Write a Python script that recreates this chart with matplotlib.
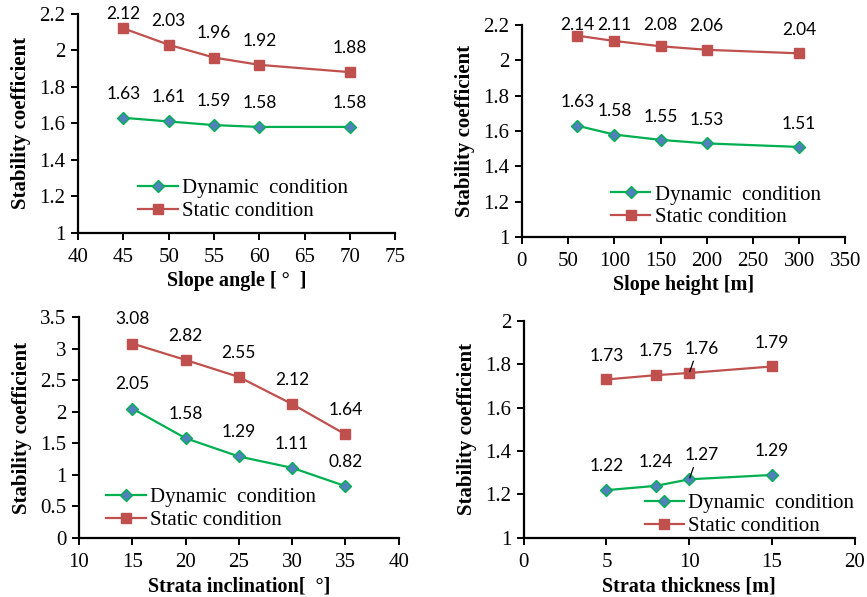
import numpy as np
import matplotlib.pyplot as plt
from matplotlib.ticker import FuncFormatter, MultipleLocator

# slope angle
angle = [45, 50, 55, 60, 70]
angle_dyn = [1.63, 1.61, 1.59, 1.58, 1.58]
angle_sta = [2.12, 2.03, 1.96, 1.92, 1.88]

# slope height
height = [60, 100, 150, 200, 300]
height_dyn = [1.63, 1.58, 1.55, 1.53, 1.51]
height_sta = [2.14, 2.11, 2.08, 2.06, 2.04]

# strata inclination
incl = [15, 20, 25, 30, 35]
incl_dyn = [2.05, 1.58, 1.29, 1.11, 0.82]
incl_sta = [3.08, 2.82, 2.55, 2.12, 1.64]

# strata thickness
thick = [5, 8, 10, 15]
thick_dyn = [1.22, 1.24, 1.27, 1.29]
thick_sta = [1.73, 1.75, 1.76, 1.79]

RED = '#C0504D'
GREEN = '#00B050'
BLUE = '#4F81BD'
SERIF = 'Liberation Serif'
SANS = 'Lato'

fig = plt.figure(figsize=(8.67, 5.97), dpi=100)

panels = [
    # rect, x, dyn, sta, xlabel, xlim, xstep, ylim, ystep, legend anchor, leader-line x
    ([0.090, 0.610, 0.366, 0.367], angle, angle_dyn, angle_sta,
     'Slope angle [ \u00b0  ]', (40, 75), 5, (1, 2.2), 0.2, (0.19, 0.15), None),
    ([0.602, 0.603, 0.373, 0.355], height, height_dyn, height_sta,
     'Slope height [m]', (0, 350), 50, (1, 2.2), 0.2, (0.275, 0.146), None),
    ([0.091, 0.099, 0.369, 0.370], incl, incl_dyn, incl_sta,
     'Strata inclination[  \u00b0]', (10, 40), 5, (0, 3.5), 0.5, (0.085, 0.131), None),
    ([0.604, 0.099, 0.382, 0.3635], thick, thick_dyn, thick_sta,
     'Strata thickness [m]', (0, 20), 5, (1, 2), 0.2, (0.365, 0.106), 10),
]

for rect, x, dyn, sta, xlabel, xlim, xstep, ylim, ystep, anchor, lead_x in panels:
    ax = fig.add_axes(rect)
    ax.plot(x, dyn, color=GREEN, lw=1.6, marker='D', ms=6.5,
            mfc=BLUE, mec=GREEN, mew=1.0, label='Dynamic  condition', zorder=3)
    ax.plot(x, sta, color=RED, lw=1.6, marker='s', ms=7,
            mfc=RED, mec=RED, label='Static condition', zorder=3)

    ax.set_xlim(*xlim)
    ax.set_ylim(*ylim)
    ax.xaxis.set_major_locator(MultipleLocator(xstep))
    ax.yaxis.set_major_locator(MultipleLocator(ystep))
    ax.yaxis.set_major_formatter(FuncFormatter(lambda v, p: '%g' % round(v, 2)))

    for s in ['top', 'right']:
        ax.spines[s].set_visible(False)
    for s in ['left', 'bottom']:
        ax.spines[s].set_linewidth(1.6)
    ax.tick_params(direction='out', length=5, width=1.4, labelsize=15)
    ax.tick_params(axis='x', pad=6)
    ax.tick_params(axis='y', pad=4)
    for lab in ax.get_xticklabels() + ax.get_yticklabels():
        lab.set_fontfamily(SERIF)

    ax.set_xlabel(xlabel, fontfamily=SERIF, fontweight='bold', fontsize=14.5, labelpad=3)
    ax.set_ylabel('Stability coefficient', fontfamily=SERIF, fontweight='bold',
                  fontsize=15, labelpad=6)

    # value labels above each marker, kept inside the plot top
    pad = 0.11 * (ylim[1] - ylim[0])
    for series in (dyn, sta):
        for xi, v in zip(x, series):
            ty = min(v + pad, ylim[1])
            if lead_x is not None and xi == lead_x:
                ax.annotate('%g' % v, xy=(xi, v), xytext=(xi + 0.75, ty),
                            ha='center', va='center', fontsize=12.5, fontfamily=SANS,
                            arrowprops=dict(arrowstyle='-', lw=0.9, color='black',
                                            relpos=(0.3, 0.0), shrinkA=1, shrinkB=1),
                            annotation_clip=False)
            else:
                ax.text(xi, ty, '%g' % v, ha='center', va='center',
                        fontsize=12.5, fontfamily=SANS, clip_on=False)

    ax.legend(loc='center left', bbox_to_anchor=anchor, frameon=False,
              prop={'family': SERIF, 'size': 15}, handlelength=1.9,
              handletextpad=0.2, labelspacing=0.15, borderpad=0, borderaxespad=0)

fig.savefig('out.png', dpi=100)
